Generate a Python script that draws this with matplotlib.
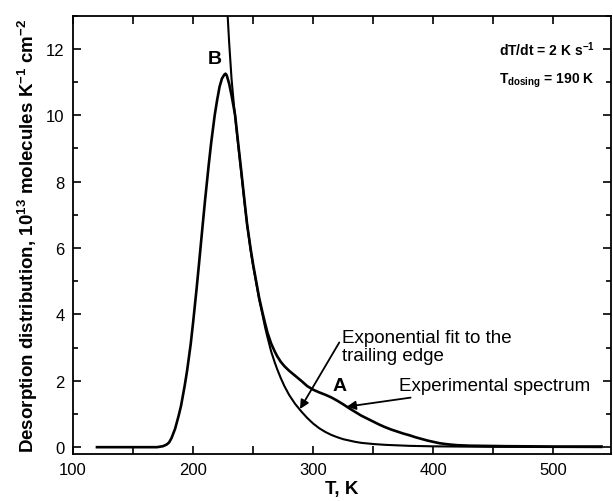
import numpy as np
import matplotlib
matplotlib.use("agg")
from matplotlib import pyplot as plt
from matplotlib.ticker import MultipleLocator

plt.rcParams['font.family'] = ['Liberation Sans', 'DejaVu Sans']
plt.rcParams['mathtext.fontset'] = 'custom'
plt.rcParams['mathtext.rm'] = 'Liberation Sans'
plt.rcParams['mathtext.bf'] = 'Liberation Sans:bold'

# experimental TPD spectrum
exp_T = [120, 150, 170, 175, 178, 180, 182, 185, 188, 190, 193, 195, 198, 200,
         203, 205, 208, 210, 213, 215, 218, 220, 222, 224, 226, 227, 228, 230,
         232, 235, 238, 240, 243, 245, 248, 250, 252, 255, 258, 260, 262, 265,
         268, 270, 273, 276, 280, 285, 290, 295, 300, 305, 310, 315, 320, 325,
         330, 335, 340, 345, 350, 355, 360, 365, 370, 375, 380, 385, 390, 395,
         400, 405, 410, 415, 420, 430, 440, 460, 500, 540]
exp_y = [0.0, 0.0, 0.0, 0.03, 0.08, 0.14, 0.27, 0.55, 0.95, 1.25, 1.85, 2.3, 3.1, 3.75,
         4.8, 5.55, 6.7, 7.45, 8.5, 9.15, 10.0, 10.45, 10.85, 11.1, 11.22, 11.25, 11.2, 10.95,
         10.6, 10.0, 9.0, 8.35, 7.35, 6.7, 5.95, 5.5, 5.1, 4.5, 4.02, 3.72, 3.44, 3.12,
         2.88, 2.74, 2.57, 2.44, 2.3, 2.15, 2.0, 1.84, 1.73, 1.65, 1.58, 1.5, 1.4, 1.29,
         1.17, 1.06, 0.95, 0.86, 0.77, 0.68, 0.6, 0.53, 0.47, 0.41, 0.36, 0.3, 0.25, 0.2,
         0.16, 0.12, 0.095, 0.075, 0.06, 0.045, 0.04, 0.03, 0.02, 0.02]

# exponential fit to the trailing edge
fit_T = [228, 230, 232, 234, 236, 240, 243, 245, 248, 250, 252, 255, 258, 260,
         262, 265, 268, 270, 273, 276, 280, 285, 290, 295, 300, 305, 310, 315,
         320, 325, 330, 335, 340, 350, 360, 370, 380, 400, 450, 540]
fit_y = [13.5, 12.2, 11.1, 10.3, 9.6, 8.3, 7.3, 6.7, 5.9, 5.45, 5.05, 4.45, 3.95, 3.6,
         3.3, 2.88, 2.55, 2.35, 2.08, 1.84, 1.57, 1.3, 1.08, 0.88, 0.71, 0.57, 0.46, 0.37,
         0.3, 0.24, 0.2, 0.16, 0.13, 0.095, 0.07, 0.055, 0.04, 0.025, 0.01, 0.0]

fig = plt.figure(figsize=(6.13, 5.02), dpi=100)
ax = fig.add_axes([0.119, 0.094, 0.878, 0.873])

ax.plot(exp_T, exp_y, color='black', lw=1.9)
ax.plot(fit_T, fit_y, color='black', lw=1.5)

ax.set_xlim(100, 548)
ax.set_ylim(-0.2, 13)
ax.xaxis.set_major_locator(MultipleLocator(100))
ax.xaxis.set_minor_locator(MultipleLocator(50))
ax.yaxis.set_major_locator(MultipleLocator(2))
ax.yaxis.set_minor_locator(MultipleLocator(1))
ax.tick_params(which='both', direction='in', top=True, right=True, width=1.2,
               labelsize=12)
ax.tick_params(axis='x', which='both', length=6, pad=6)
ax.tick_params(axis='y', which='major', length=6, pad=6)
ax.tick_params(axis='y', which='minor', length=3.5)
for s in ax.spines.values():
    s.set_linewidth(1.3)

ax.set_xlabel('T, K', fontsize=13.5, fontweight='bold', labelpad=2)
ax.set_ylabel(r'Desorption distribution, 10$^{\mathbf{13}}$ molecules K$^{\mathbf{-1}}$ cm$^{\mathbf{-2}}$',
              fontsize=13.5, fontweight='bold', labelpad=4)

ax.text(218, 11.7, 'B', fontsize=14, fontweight='bold', ha='center', va='center')
ax.text(322, 1.85, 'A', fontsize=14, fontweight='bold', ha='center', va='center')
ax.text(455, 12.0, r'dT/dt = 2 K s$^{\mathbf{-1}}$', fontsize=10, fontweight='bold',
        ha='left', va='center')
ax.text(455, 11.05, r'T$_{\mathbf{dosing}}$ = 190 K', fontsize=10, fontweight='bold',
        ha='left', va='center')

ax.annotate('Exponential fit to the\ntrailing edge', xy=(289, 1.15), xytext=(324, 3.03),
            fontsize=13.5, ha='left', va='center', linespacing=1.1,
            arrowprops=dict(arrowstyle='-|>', color='black', lw=1.3,
                            shrinkA=0, shrinkB=0, mutation_scale=13,
                            relpos=(0, 0.75)))
ax.annotate('Experimental spectrum', xy=(328, 1.22), xytext=(371, 1.85),
            fontsize=13.5, ha='left', va='center',
            arrowprops=dict(arrowstyle='-|>', color='black', lw=1.3,
                            shrinkA=3, shrinkB=0, mutation_scale=13))

fig.savefig('out.png', dpi=100)
